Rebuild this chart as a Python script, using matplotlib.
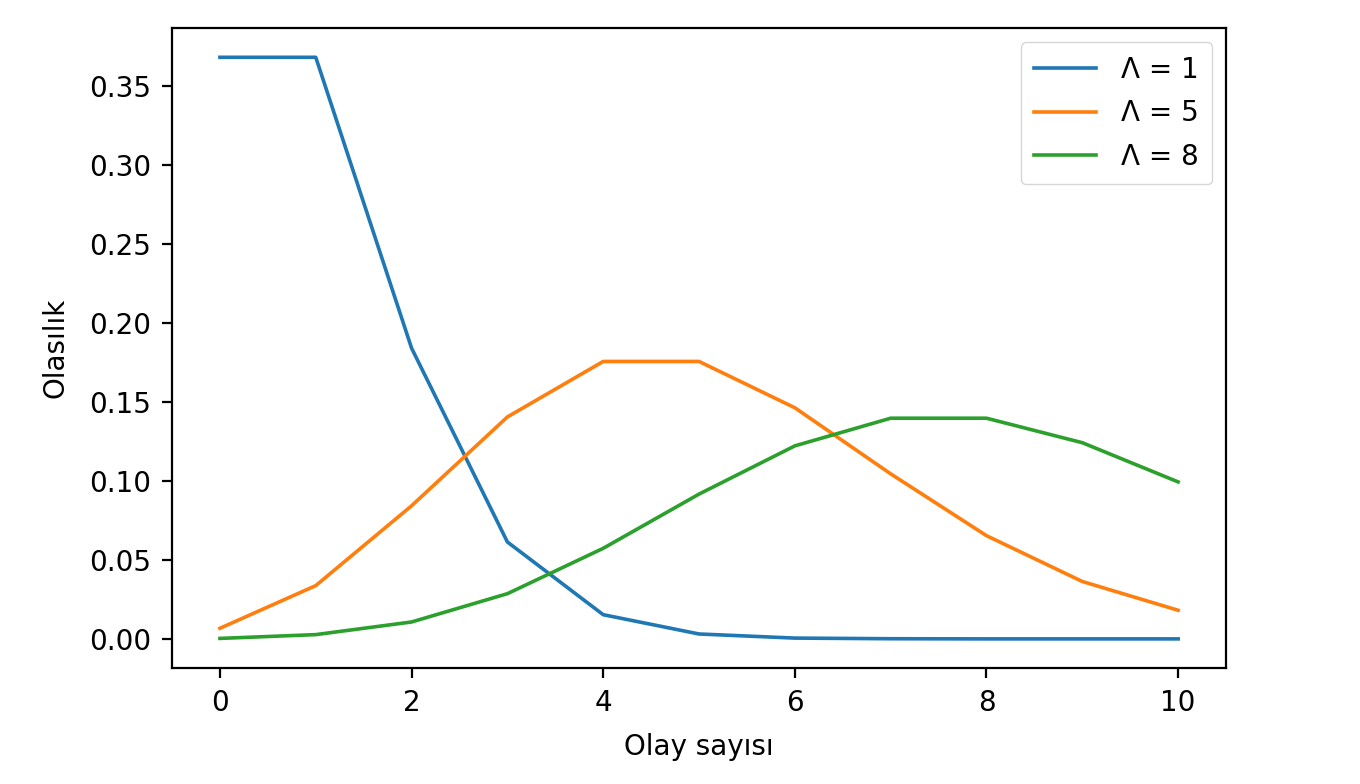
import matplotlib
matplotlib.use('Agg')
import matplotlib.pyplot as plt

# olay sayilari ve olasiliklar
k = [0, 1, 2, 3, 4, 5, 6, 7, 8, 9, 10]
p_lam1 = [0.3679, 0.3679, 0.1839, 0.0613, 0.0153, 0.0031, 0.0005, 0.0001, 0.0000, 0.0000, 0.0000]
p_lam5 = [0.0067, 0.0337, 0.0842, 0.1404, 0.1755, 0.1755, 0.1462, 0.1044, 0.0653, 0.0363, 0.0181]
p_lam8 = [0.0003, 0.0027, 0.0107, 0.0286, 0.0573, 0.0916, 0.1221, 0.1396, 0.1396, 0.1241, 0.0993]
labels = ['Λ = 1', 'Λ = 5', 'Λ = 8']

fs = 20
fig = plt.figure(figsize=(13.6, 7.84), dpi=100)
ax = fig.add_axes([0.1265, 0.148, 0.775, 0.816])

for p, lab in zip([p_lam1, p_lam5, p_lam8], labels):
    ax.plot(k, p, linewidth=2.6, label=lab)

ax.set_xlabel('Olay sayısı', fontsize=fs, labelpad=12)
ax.set_ylabel('Olasılık', fontsize=fs, labelpad=14)
ax.tick_params(labelsize=fs, length=7, width=1.6, pad=8)
for s in ax.spines.values():
    s.set_linewidth(1.6)
ax.legend(loc='upper right', fontsize=fs, handlelength=2.2, borderpad=0.5,
          labelspacing=0.55, handletextpad=0.9)

fig.savefig('out.png', dpi=100)
